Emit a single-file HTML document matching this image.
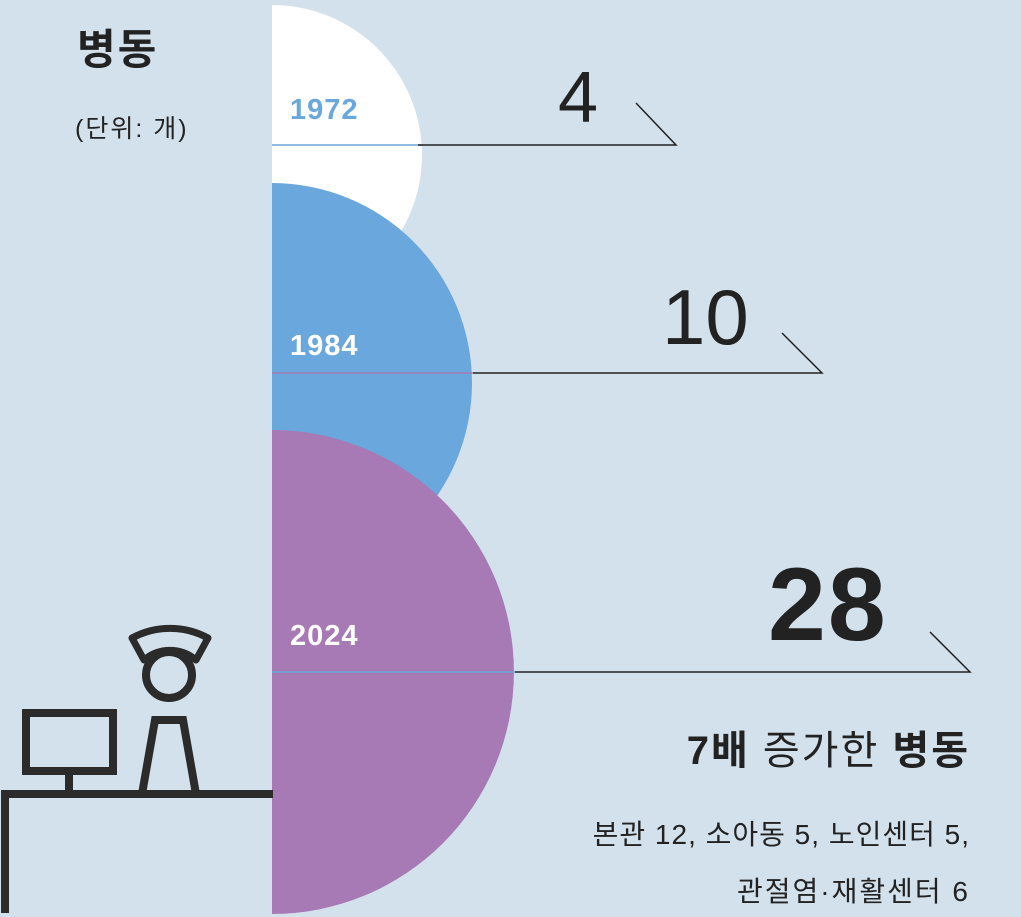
<!DOCTYPE html><html><head><meta charset="utf-8"><style>
body{margin:0;width:1021px;height:917px;overflow:hidden;background:#d3e1ec;font-family:"Liberation Sans","Noto Sans CJK KR",sans-serif}
</style></head><body>
<svg width="1021" height="917" style="position:absolute;left:0;top:0">
<rect width="1021" height="917" fill="#d3e1ec"/>
<path d="M272,5 A150,150 0 0 1 272,305 Z" fill="#fff"/>
<path d="M272,183 A200,200 0 0 1 272,583 Z" fill="#6aa7dc"/>
<path d="M272,430 A242,242 0 0 1 272,914 Z" fill="#a77ab5"/>
<g stroke-width="1.5" fill="none">
<line x1="272" y1="145" x2="422" y2="145" stroke="#6aa7dc"/>
<polyline points="418,145 676,145 636,103" stroke="#222"/>
<line x1="272" y1="373" x2="473" y2="373" stroke="#a77ab5"/>
<polyline points="473,373 822,373 782,333" stroke="#222"/>
<line x1="272" y1="672" x2="515" y2="672" stroke="#6aa7dc"/>
<polyline points="515,672 970,672 930,632" stroke="#222"/>
</g>
<g stroke="#2b2b2b" stroke-width="8" fill="none">
<polyline points="5,913 5,794 273,794"/>
<rect x="26" y="713" width="87" height="58"/>
<line x1="69" y1="771" x2="69" y2="794"/>
<circle cx="169" cy="675" r="23"/>
<path d="M132,638 A80,80 0 0 1 208,638 L196,660 A40,40 0 0 0 144,660 Z" stroke-width="7" stroke-linejoin="round"/>
<path d="M142,794 L155,720 L183,720 L196,794"/>
</g>
<text x="77" y="64" font-size="42" font-weight="bold" fill="#222" letter-spacing="2">병동</text>
<text x="75" y="137" font-size="25" fill="#222" letter-spacing="2">(단위: 개)</text>
<text x="290" y="119" font-size="29" font-weight="bold" fill="#6aa7dc" letter-spacing="1">1972</text>
<text x="290" y="355" font-size="29" font-weight="bold" fill="#fff" letter-spacing="1">1984</text>
<text x="290" y="645" font-size="29" font-weight="bold" fill="#fff" letter-spacing="1">2024</text>
<text x="558" y="122" font-size="72" fill="#222" style="font-weight:lighter">4</text>
<text x="662" y="344" font-size="78" fill="#222" style="font-weight:lighter">10</text>
<text x="768" y="640" font-size="104" font-weight="bold" fill="#222" letter-spacing="2">28</text>
<text x="970" y="764" font-size="40" fill="#222" text-anchor="end" letter-spacing="2"><tspan font-weight="bold">7배</tspan> 증가한 <tspan font-weight="bold">병동</tspan></text>
<text x="970" y="844" font-size="28" fill="#222" text-anchor="end" letter-spacing="1">본관 12, 소아동 5, 노인센터 5,</text>
<text x="970" y="901" font-size="28" fill="#222" text-anchor="end" letter-spacing="2">관절염·재활센터 6</text>
</svg>
</body></html>
